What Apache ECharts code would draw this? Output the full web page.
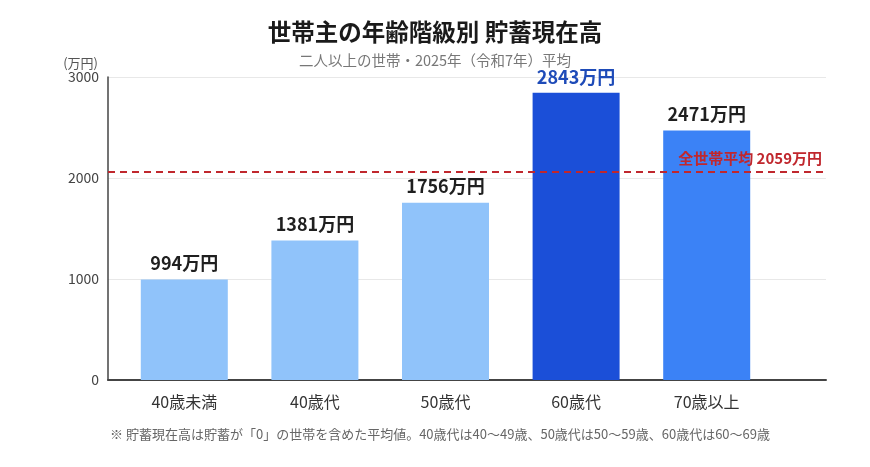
<!DOCTYPE html>
<html>
<head>
<meta charset="utf-8">
<script src="https://cdn.jsdelivr.net/npm/echarts@6/dist/echarts.min.js"></script>
<style>
  html, body { margin: 0; padding: 0; background: #fff; }
  #chart { width: 870px; height: 467px; }
</style>
</head>
<body>
<div id="chart"></div>
<script>
var categories = ['40歳未満', '40歳代', '50歳代', '60歳代', '70歳以上'];
var savings = [994, 1381, 1756, 2843, 2471];
var barColors = ['#90C3FA', '#90C3FA', '#90C3FA', '#1B4FD8', '#3B82F6'];
var labelColors = ['#1f1f1f', '#1f1f1f', '#1f1f1f', '#1E4BB8', '#1f1f1f'];
var averageAll = 2059;

var font = '"Noto Sans CJK JP", "Noto Sans", sans-serif';
var myChart = echarts.init(document.getElementById('chart'));

var barData = savings.map(function (v, i) {
    return {
        value: v,
        itemStyle: { color: barColors[i] },
        label: { color: labelColors[i] }
    };
});

var option = {
    backgroundColor: '#fff',
    textStyle: { fontFamily: font },
    title: [{
        text: '世帯主の年齢階級別 貯蓄現在高',
        left: 'center',
        top: 15,
        textStyle: { fontSize: 23.5, fontWeight: 'bold', color: '#1a1a1a', fontFamily: font }
    }, {
        text: '二人以上の世帯・2025年（令和7年）平均',
        left: 'center',
        top: 48,
        textStyle: { fontSize: 14.5, fontWeight: 'normal', color: '#777', fontFamily: font }
    }],
    graphic: [{
        type: 'text',
        left: 110,
        top: 428,
        style: {
            text: '※ 貯蓄現在高は貯蓄が「0」の世帯を含めた平均値。40歳代は40～49歳、50歳代は50～59歳、60歳代は60～69歳',
            fill: '#666',
            font: '13px ' + font
        }
    }],
    // grid 0: frame, ticks and average line; grid 1: the bars
    grid: [
        { left: 108, right: 44, top: 77, bottom: 87 },
        { left: 119, right: 98, top: 77, bottom: 87 }
    ],
    xAxis: [{
        gridIndex: 0,
        type: 'value',
        min: 0,
        max: 1,
        axisTick: { show: false },
        axisLabel: { show: false },
        splitLine: { show: false },
        axisLine: { show: true, lineStyle: { color: '#444', width: 2 } }
    }, {
        gridIndex: 1,
        type: 'category',
        data: categories,
        axisTick: { show: false },
        axisLine: { show: false },
        axisLabel: { color: '#333', fontSize: 16, margin: 14, fontFamily: font }
    }],
    yAxis: [{
        gridIndex: 0,
        type: 'value',
        min: 0,
        max: 3000,
        interval: 1000,
        name: '(万円)',
        nameLocation: 'end',
        nameGap: 7,
        nameTextStyle: { color: '#555', fontSize: 13, align: 'right', padding: [0, 10, 0, 0] },
        axisLine: { show: true, lineStyle: { color: '#444', width: 1.5 } },
        axisTick: { show: false },
        axisLabel: {
            color: '#444',
            fontSize: 14,
            margin: 9,
            formatter: function (v) { return String(v); }
        },
        splitLine: { lineStyle: { color: '#e8e8e8' } }
    }, {
        gridIndex: 1,
        type: 'value',
        min: 0,
        max: 3000,
        interval: 1000,
        axisLine: { show: false },
        axisTick: { show: false },
        axisLabel: { show: false },
        splitLine: { show: false }
    }],
    series: [{
        type: 'line',
        xAxisIndex: 0,
        yAxisIndex: 0,
        data: [],
        markLine: {
            silent: true,
            symbol: 'none',
            lineStyle: { color: '#C0272D', type: [7, 5], width: 2 },
            label: {
                position: 'insideEndTop',
                color: '#C0272D',
                fontSize: 15,
                fontWeight: 'bold',
                fontFamily: font,
                distance: [4, 6],
                formatter: '全世帯平均 ' + averageAll + '万円'
            },
            data: [{ yAxis: averageAll }]
        }
    }, {
        type: 'bar',
        xAxisIndex: 1,
        yAxisIndex: 1,
        data: barData,
        barWidth: 87,
        label: {
            show: true,
            position: 'top',
            distance: 7,
            fontSize: 18,
            fontWeight: 'bold',
            fontFamily: font,
            formatter: function (p) { return p.value + '万円'; }
        }
    }]
};
myChart.setOption(option);
</script>
</body>
</html>
